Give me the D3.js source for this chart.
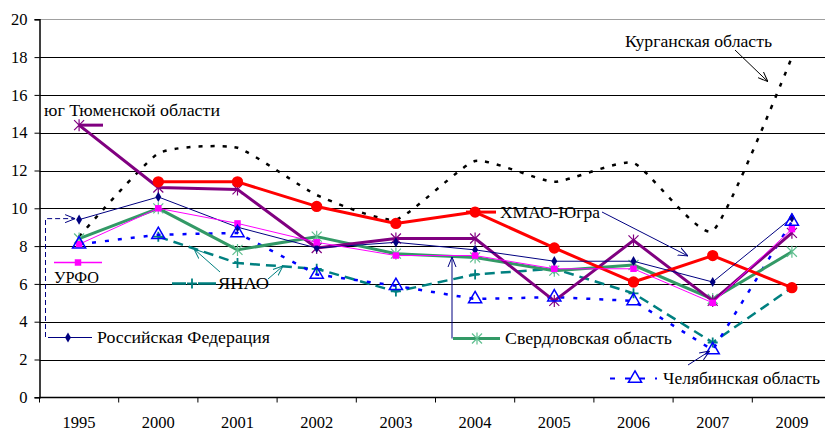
<!DOCTYPE html>
<html><head><meta charset="utf-8">
<script src="https://cdn.jsdelivr.net/npm/d3@7"></script>
<style>
html,body{margin:0;padding:0;background:#fff;}
svg{display:block;}
svg text{font-family:"Liberation Serif","Times New Roman","DejaVu Serif","Noto Serif",Tinos,serif !important;}
</style></head>
<body>
<svg id="chart" width="825" height="432" font-family="Liberation Serif, Times New Roman, DejaVu Serif, serif"></svg>
<script>
const categories = ["1995","2000","2001","2002","2003","2004","2005","2006","2007","2009"];
const yTicks = [0,2,4,6,8,10,12,14,16,18,20];
const rfValues     = [9.4,10.6,9.0,7.9,8.2,7.8,7.2,7.2,6.1,9.5];
const urfoValues   = [8.1,10.0,9.2,8.2,7.5,7.5,6.8,6.8,5.0,8.9];
const sverdValues  = [8.4,10.0,7.8,8.5,7.6,7.4,6.7,7.0,5.2,7.7];
const hmaoValues   = [null,11.4,11.4,10.1,9.2,9.8,7.9,6.1,7.5,5.8];
const yugValues    = [14.4,11.1,11.0,7.9,8.4,8.4,5.1,8.3,5.1,8.7];
const kurganValues = [8.5,12.9,13.2,10.7,9.4,12.5,11.4,12.4,8.8,18.0];
const yanaoValues  = [null,8.5,7.1,6.8,5.6,6.5,6.8,5.5,2.9,5.8];
const chelValues   = [8.1,8.6,8.7,6.5,5.9,5.2,5.3,5.1,2.5,9.3];

const seriesNames = {
  rf:"Российская Федерация", urfo:"УРФО", sverd:"Свердловская область",
  hmao:"ХМАО-Югра", yug:"юг Тюменской  области", kurgan:"Курганская область",
  yanao:"ЯНАО", chel:"Челябинская область"
};

const svg = d3.select("#chart");
const W = 825, H = 432;
const x = d3.scaleBand().domain(categories).range([39.5, 831.5]);
const y = d3.scaleLinear().domain([0,20]).range([397.3, 19.3]);
const cx = c => x(c) + x.bandwidth()/2;
const SERIF = "Liberation Serif, Times New Roman, DejaVu Serif, serif";

const defs = svg.append("defs");
function arrowMarker(id, color){
  defs.append("marker").attr("id",id).attr("viewBox","0 0 10 10").attr("refX",10).attr("refY",5)
    .attr("markerWidth",10).attr("markerHeight",10).attr("orient","auto").attr("markerUnits","userSpaceOnUse")
    .append("path").attr("d","M0,1 L10,5 L0,9").attr("fill","none").attr("stroke",color).attr("stroke-width",1);
}
arrowMarker("arNavy","#000080");
arrowMarker("arBlack","#000");
arrowMarker("arTeal","#008080");

// gridlines
svg.append("g").selectAll("line").data(yTicks.filter(t=>t>0)).join("line")
  .attr("x1",39.5).attr("x2",W).attr("y1",d=>Math.round(y(d))+0.5).attr("y2",d=>Math.round(y(d))+0.5)
  .attr("stroke",d=>d===20?"#a0a0a0":"#000").attr("stroke-width",1.2);

// y axis
const yAxis = svg.append("g").attr("transform","translate(39.5,0)")
  .call(d3.axisLeft(y).tickValues(yTicks).tickSize(5).tickPadding(7).tickFormat(d3.format("d")));
yAxis.attr("font-family",SERIF);
yAxis.select(".domain").attr("stroke","#000").attr("stroke-width",1.5);
yAxis.selectAll(".tick line").attr("stroke","#000");
yAxis.selectAll(".tick text").attr("font-size","16.5px").attr("fill","#000");

// x axis
const xg = svg.append("g").attr("transform","translate(0,397.5)");
xg.append("line").attr("x1",39.5).attr("x2",W).attr("stroke","#000").attr("stroke-width",1.5);
xg.selectAll("line.tk").data(categories).join("line").attr("class","tk")
  .attr("x1",d=>x(d)).attr("x2",d=>x(d)).attr("y1",0).attr("y2",5).attr("stroke","#000");
xg.selectAll("text").data(categories).join("text")
  .attr("x",d=>cx(d)).attr("y",30).attr("text-anchor","middle")
  .attr("font-size","16.5px").attr("fill","#000").text(d=>d);

function pts(vals){ return categories.map((c,i)=>({c, v:vals[i]})).filter(d=>d.v!=null); }
function drawLine(vals, opt){
  const gen = d3.line().x(d=>cx(d.c)).y(d=>y(d.v)).curve(opt.curve || d3.curveLinear);
  svg.append("path").datum(pts(vals)).attr("d",gen).attr("fill","none")
    .attr("stroke",opt.color).attr("stroke-width",opt.width)
    .attr("stroke-dasharray",opt.dash||null).attr("stroke-linejoin","round");
}
function starPath(r){ return `M${-r},${-r}L${r},${r}M${-r},${r}L${r},${-r}M0,${-r*1.2}L0,${r*1.2}`; }
function plusPath(r){ return `M${-r},0L${r},0M0,${-r}L0,${r}`; }
function styleSym(p, kind, color, fillTri){
  if(kind==="diamond") p.attr("d",d3.symbol(d3.symbolDiamond,30)).attr("fill",color);
  if(kind==="square") p.attr("d",d3.symbol(d3.symbolSquare,42)).attr("fill",color);
  if(kind==="circle") p.attr("d",d3.symbol(d3.symbolCircle,100)).attr("fill",color);
  if(kind==="triangle") p.attr("d",d3.symbol(d3.symbolTriangle,75)).attr("fill",fillTri||"none").attr("stroke",color).attr("stroke-width",1.5);
  if(kind==="star") p.attr("d",starPath(5)).attr("fill","none").attr("stroke",color).attr("stroke-width",1.2);
  if(kind==="plus") p.attr("d",plusPath(5)).attr("fill","none").attr("stroke",color).attr("stroke-width",1.8);
}
function drawMarkers(vals, kind, color){
  const sel = svg.append("g").selectAll("path").data(pts(vals)).join("path")
    .attr("transform",d=>`translate(${cx(d.c)},${y(d.v)})`);
  styleSym(sel, kind, color);
}

// series
drawLine(kurganValues,{color:"#000",width:2.5,dash:"4,8",curve:d3.curveCardinal.tension(0.5)});
drawLine(yanaoValues,{color:"#008080",width:2.5,dash:"10,6"});
drawMarkers(yanaoValues,"plus","#008080");
drawLine(chelValues,{color:"#0000FF",width:2.5,dash:"4,9"});
drawLine(sverdValues,{color:"#339966",width:3});
drawMarkers(sverdValues,"star","#5fbf8f");
drawLine(yugValues,{color:"#800080",width:3});
drawMarkers(yugValues,"star","#800080");
drawLine(hmaoValues,{color:"#FF0000",width:3});
drawMarkers(hmaoValues,"circle","#FF0000");
drawLine(rfValues,{color:"#000080",width:1});
drawMarkers(rfValues,"diamond","#000080");
drawLine(urfoValues,{color:"#FF00FF",width:1});
drawMarkers(urfoValues,"square","#FF00FF");
drawMarkers(chelValues,"triangle","#0000FF");

// ---- legends / annotations ----
function label(txt, lx, ly, len){
  svg.append("text").attr("x",lx).attr("y",ly).attr("font-size","17px").attr("fill","#000")
    .attr("textLength",len).attr("lengthAdjust","spacingAndGlyphs").text(txt);
}
function sample(x1,x2,yy,color,width,dash){
  svg.append("line").attr("x1",x1).attr("x2",x2).attr("y1",yy).attr("y2",yy)
    .attr("stroke",color).attr("stroke-width",width).attr("stroke-dasharray",dash||null);
}
function symAt(kind,color,px,py){
  styleSym(svg.append("path").attr("transform",`translate(${px},${py})`), kind, color, "#fff");
}
function arrow(x1,y1,x2,y2,color,id){
  svg.append("line").attr("x1",x1).attr("y1",y1).attr("x2",x2).attr("y2",y2)
    .attr("stroke",color).attr("stroke-width",1).attr("marker-end",`url(#${id})`);
}

// юг Тюменской области
label(seriesNames.yug, 44, 116, 176);
sample(cx("1995"), 103, y(yugValues[0]), "#800080", 3);

// Курганская область
label(seriesNames.kurgan, 625, 47, 147);
arrow(735,50,cx("2009")-24,y(16.7),"#000","arBlack");

// ХМАО-Югра
sample(466, 496, y(hmaoValues[5]), "#FF0000", 3);
label(seriesNames.hmao, 500, 218, 100);
arrow(602,212,688,256,"#000080","arNavy");

// УРФО
sample(54, 102, 262.5, "#FF00FF", 1.5);
symAt("square","#FF00FF",78,262.5);
label(seriesNames.urfo, 54, 283, 45);

// ЯНАО
sample(172, 186, 283.5, "#008080", 2.5);
sample(198, 216, 283.5, "#008080", 2.5);
symAt("plus","#008080",192,283.5);
label(seriesNames.yanao, 218, 289, 51);
arrow(220,272,194,249,"#008080","arTeal");
arrow(268,279,283,266,"#008080","arTeal");

// Российская Федерация
sample(53, 92, 337.5, "#000080", 1);
symAt("diamond","#000080",68,337.5);
label(seriesNames.rf, 97, 343, 173);
svg.append("path").attr("d",`M53,337.5 H45.5 V${y(rfValues[0])-1} H${cx("1995")-4}`)
  .attr("fill","none").attr("stroke","#000080").attr("stroke-width",1).attr("stroke-dasharray","5,3")
  .attr("marker-end","url(#arNavy)");

// Свердловская область
sample(453, 500, 338.5, "#339966", 3);
symAt("star","#5fbf8f",477,338.5);
label(seriesNames.sverd, 505, 344, 167);
arrow(452,338.5,452,257,"#000080","arNavy");

// Челябинская область
sample(610, 657, 378.5, "#0000FF", 2, "5,10");
symAt("triangle","#0000FF",635,378.5);
label(seriesNames.chel, 663, 384, 157);
arrow(688,365,cx("2007")-3,y(chelValues[8])+1,"#000080","arNavy");
</script>
</body></html>
